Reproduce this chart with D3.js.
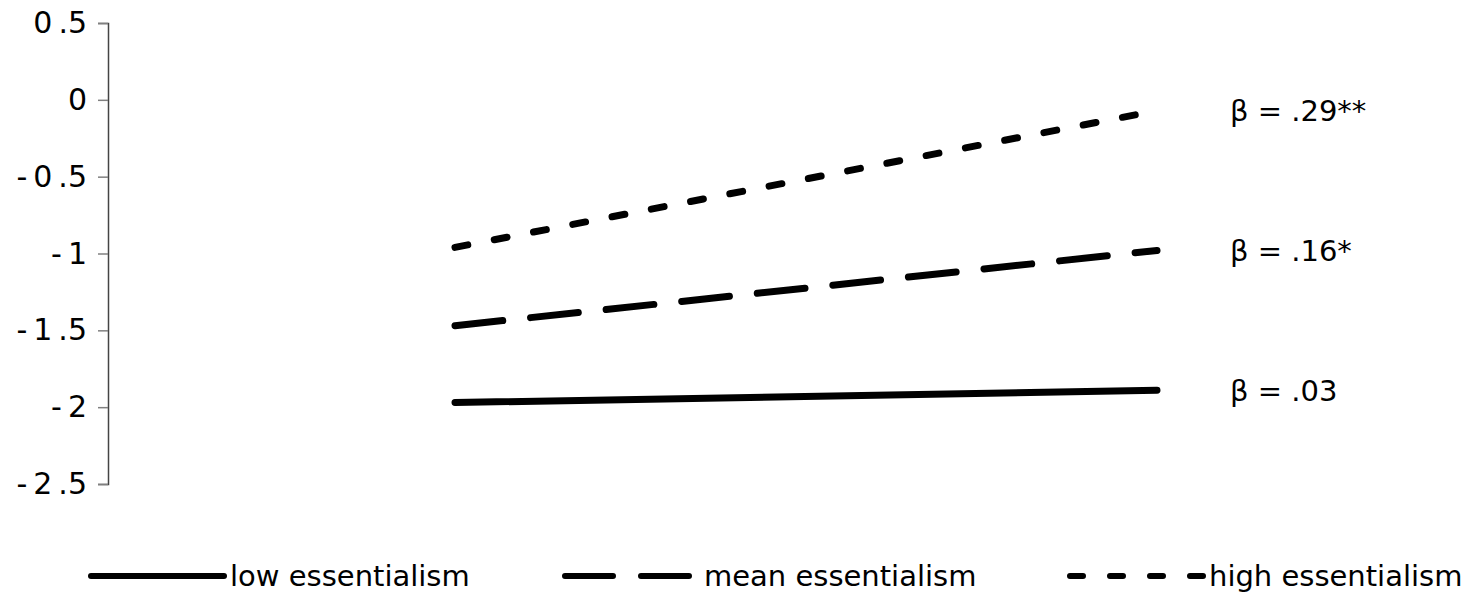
<!DOCTYPE html>
<html>

<head>
    <meta charset="utf-8">
    <script src="https://cdn.jsdelivr.net/npm/d3@7"></script>
    <style>
        body { margin: 0; background: #fff; }
        text { font-family: "DejaVu Sans", Verdana, sans-serif; fill: #000; }
    </style>
</head>

<body>
    <svg class="MainSvg"></svg>
</body>
<script>
    // data
    var conditions = ["-1 SD", "+1 SD"];
    var groups = ["low essentialism", "mean essentialism", "high essentialism"];
    var lowValues = [-1.97, -1.89];
    var meanValues = [-1.47, -0.98];
    var highValues = [-0.96, -0.07];
    var betaLabels = ["\u03b2 = .03", "\u03b2 = .16*", "\u03b2 = .29**"];
    var yTicks = [0.5, 0, -0.5, -1, -1.5, -2, -2.5];

    var width = 1465, height = 595;
    var fontSize = 29;

    // dash styles per group (round caps)
    var dashes = [null, "48,28", "13,27"];

    var svg = d3.select(".MainSvg")
        .attr("width", width)
        .attr("height", height);

    var x = d3.scalePoint()
        .domain(conditions)
        .range([455, 1157]);

    var y = d3.scaleLinear()
        .domain([-2.5, 0.5])
        .range([484, 23]);

    var yAxis = d3.axisLeft(y)
        .tickValues(yTicks)
        .tickSize(10)
        .tickPadding(11)
        .tickFormat(function (d) {
            // the original spaces its digits out a bit
            return String(d).replace("-", "-\u2009").replace(".", "\u2009.");
        });

    var ga = svg.append("g")
        .attr("transform", "translate(108,0)")
        .call(yAxis);
    ga.select(".domain").attr("stroke", "#444").attr("stroke-width", 1.5);
    ga.selectAll(".tick line").attr("stroke", "#808080").attr("stroke-width", 1.5);
    ga.selectAll(".tick text")
        .style("font-family", "'DejaVu Sans', Verdana, sans-serif")
        .style("font-size", (fontSize + 1) + "px")
        .attr("fill", "#000");

    var series = [lowValues, meanValues, highValues];
    var line = d3.line()
        .x(function (d, i) { return x(conditions[i]); })
        .y(function (d) { return y(d); });

    series.forEach(function (vals, i) {
        svg.append("path")
            .datum(vals)
            .attr("d", line)
            .attr("fill", "none")
            .attr("stroke", "#000")
            .attr("stroke-width", 7)
            .attr("stroke-linecap", "round")
            .attr("stroke-dasharray", dashes[i]);

        svg.append("text")
            .attr("x", x(conditions[1]) + 73)
            .attr("y", y(vals[1]))
            .attr("dy", "0.36em")
            .style("font-size", fontSize + "px")
            .text(betaLabels[i]);
    });

    // legend
    var legendX = [91, 565, 1070];
    var legendY = 576;
    groups.forEach(function (g, i) {
        var lg = svg.append("g").attr("transform", "translate(" + legendX[i] + "," + legendY + ")");
        lg.append("line")
            .attr("x1", 0).attr("x2", 133)
            .attr("y1", 0).attr("y2", 0)
            .attr("stroke", "#000")
            .attr("stroke-width", 6)
            .attr("stroke-linecap", "round")
            .attr("stroke-dasharray", dashes[i]);
        lg.append("text")
            .attr("x", 139)
            .attr("y", 0)
            .attr("dy", "0.33em")
            .style("font-size", fontSize + "px")
            .text(g);
    });
</script>

</html>
